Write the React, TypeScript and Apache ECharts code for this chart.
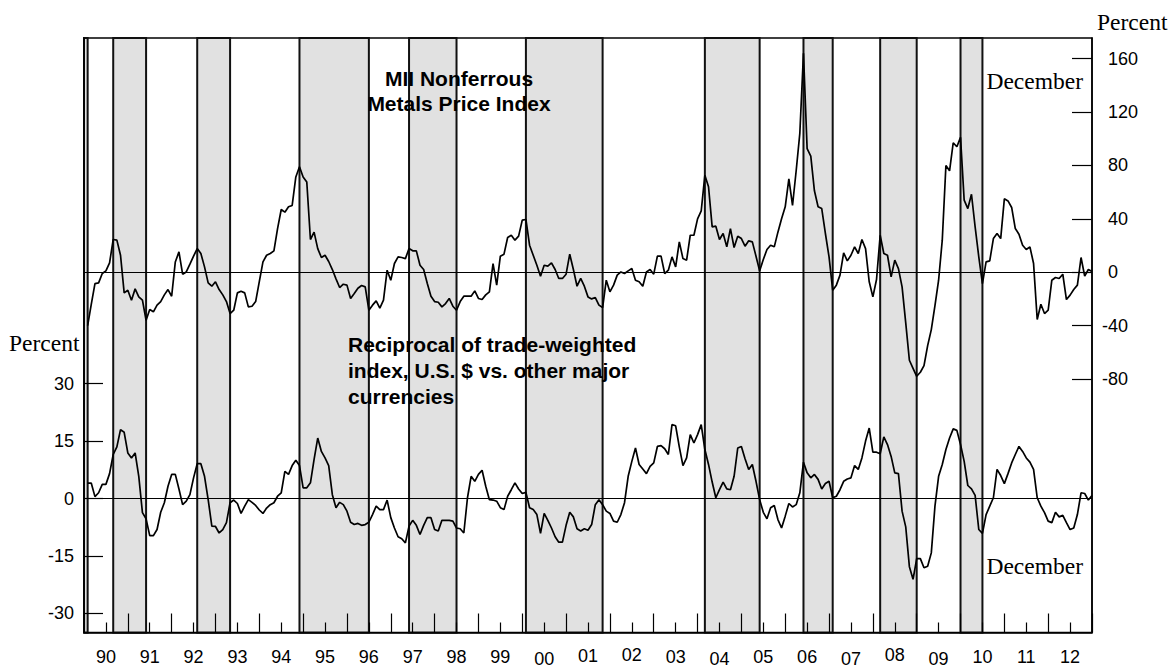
import React, { useEffect, useRef } from 'react';
import * as echarts from 'echarts';

// Year tick labels (two-digit years)
const years = ['90', '91', '92', '93', '94', '95', '96', '97', '98', '99', '00', '01', '02', '03', '04', '05', '06', '07', '08', '09', '10', '11', '12'];

// MII Nonferrous Metals Price Index, growth rate (percent), monthly Jan 1990 .. Dec 2012
const metalsIndex = [
  -40, -24, -8.5, -8, -1, 1, 7, 24.5, 24, 12.7, -15.5, -13.5,
  -21, -12.5, -18.5, -21, -36, -28, -29.7, -24.7, -22, -17, -13, -18,
  7.7, 15.2, -1.5, 0.2, 6, 12, 17.7, 14, 4, -8, -10.5, -7.2,
  -13, -17, -22, -31, -28.5, -15.5, -14.2, -15.5, -26, -25.5, -22, -7,
  7.7, 12.7, 14, 16, 32.7, 47, 45, 49, 50, 71.4, 79, 71.4,
  67.6, 24.5, 30, 17.7, 11, 12.7, 8, 2, -5, -11.5, -9, -9.7,
  -19.7, -16, -12, -10, -11, -28.5, -24.7, -21.5, -27, -21, 1.5, -6,
  6.5, 11.5, 11, 10.2, 17.7, 16, 16, 5.2, 2, -8.5, -18, -22,
  -22.5, -26, -23.5, -19.7, -25.5, -28.5, -22, -18, -18, -18, -14, -19.7,
  -20.5, -17, -14.7, 6.5, -9.7, 12, 13.5, 26, 27.7, 24, 27, 39,
  39.5, 20.2, 12.7, 5.2, -3, 5.2, 4.5, 7, 2, -4.7, -4.7, -1.5,
  13.5, 2, -10.5, -4.7, -10.5, -18.5, -20, -19, -24.7, -26.5, -6, -14.7,
  -9.7, -2.2, 0.2, -1, 1, 2.7, -6, -7.2, -10.5, 0.2, 2, -1.5,
  12, 12, -1, 1.5, 11.5, 4, 22.7, 10.2, 9, 27.7, 27.7, 40,
  46, 72.7, 64, 34, 34.5, 24.5, 29, 19, 32.7, 18.5, 27, 25.2,
  19.5, 23.5, 22.7, 12, 1, 9.5, 17, 20.2, 19, 30, 40, 49,
  70, 50, 76, 104, 164, 92.6, 87, 61, 49, 47.7, 29, 11.5,
  -13.5, -9.7, -2.2, 14.5, 8.5, 12.7, 19, 14, 24.5, 17.7, -7.2, -18.5,
  -5.5, 27.7, 14, 12.7, -3.5, 9, 2.7, -11, -38, -66, -72, -78,
  -75, -70, -55, -43, -25, -6, 24, 80, 76, 97, 94, 101,
  54, 47.7, 58.4, 34, 11.5, -8.5, 7.7, 8.5, 25.2, 29, 25.2, 55,
  53.4, 48.5, 32.7, 28.5, 20.2, 17, 19, 6.5, -35.4, -24, -31, -28.5,
  -6, -4, -4.7, -1.5, -20.5, -17.2, -13, -9.7, 11, -3, 2, 0.5,
];

// Reciprocal of trade-weighted index, U.S. $ vs. other major currencies, growth rate (percent)
const dollarIndex = [
  4, 4, 0.5, 1.5, 3.7, 3.7, 6.5, 11.5, 13.5, 18, 17.3, 11.9,
  10.6, 11.9, 5.8, -3.7, -5.3, -9.7, -9.7, -8.1, -3.6, -1.1, 3.2, 6.3,
  6.3, 2.5, -1.6, -0.7, 1, 5.4, 9.1, 9.1, 5.8, -0.3, -7.2, -7.3,
  -9, -8.1, -6.3, -1.1, -0.4, -1.3, -3.9, -2, -0.3, -1, -1.8, -3,
  -3.9, -2.5, -1.6, -1.1, 0.6, 1.5, 7.1, 6.3, 8.6, 10, 8.6, 2.8,
  2.8, 4.1, 10.2, 15.8, 12.3, 10.6, 8.6, 1, -2.4, -1, -1.6, -3.3,
  -6.2, -6.8, -6.5, -7, -6.8, -6.2, -4.2, -2, -2.9, -2.9, -0.4, -5,
  -7.7, -10, -10.5, -11.6, -7.2, -5.7, -7, -9.4, -7, -5, -5, -8.1,
  -8.5, -5.7, -5.7, -5.7, -5.9, -7.7, -7.9, -9, 0.2, 5.8, 4.5, 6.3,
  7.4, 3.2, -0.3, -0.4, -0.7, -2.4, -2.9, 0.6, 2.3, 4.1, 2.5, 1.3,
  1.6, -2.4, -2.9, -4.2, -9.1, -3.9, -5.7, -7.7, -10, -11.4, -11.4, -7,
  -3.6, -4.8, -7.9, -8.5, -7.9, -8.3, -6.8, -1.6, -0.3, -1.6, -3.3, -3.9,
  -5.9, -6.2, -4.2, -1.1, 5.8, 9.7, 13.2, 8.9, 7.7, 6.5, 8.4, 9.3,
  13.6, 13.8, 13, 11.5, 19.3, 19, 13.5, 8.6, 10.6, 16.7, 14.5, 16.7,
  19.3, 12.8, 8.9, 4.3, 0.2, 2.3, 4.3, 2.5, 2.3, 5.8, 13.2, 13.6,
  10.4, 7.6, 8.9, 4.5, -0.3, -3.6, -5.3, -2.4, -1.8, -5.5, -7.7, -4.6,
  -1.3, -2.2, -1.6, 1.5, 9.5, 6.7, 5.4, 6.3, 5, 2.5, 3.9, 4.5,
  0.2, 0.6, 2.3, 4.5, 5.1, 5.4, 8.6, 7.6, 10.6, 15, 18.4, 12.1,
  12.1, 11.7, 16.1, 14.1, 11, 6.7, 6.5, -3.3, -7.4, -17.8, -21.1, -15.7,
  -15.7, -18.1, -17.7, -14.2, -2, 5.8, 8.9, 12.8, 15.8, 18.2, 17.8, 14.1,
  9.7, 3.4, 2.5, 0.8, -8.1, -9.1, -4.2, -2, 0.2, 7.6, 6, 3.9,
  6.5, 9.3, 11.5, 13.6, 12.3, 10.6, 9.5, 7.6, 0.2, -2, -3.7, -5.9,
  -6.3, -3.6, -4.8, -4.4, -6.3, -8.1, -7.7, -4.2, 1.5, 1.3, -0.4, 0.8,
];

// Shaded periods (months counted from January 1990 = 1)
const downturns = [
  [0, 1], [8, 17], [31, 40], [59, 78], [89, 102], [121, 142],
  [170, 185], [197, 205], [218, 228], [240, 246],
];

const leftTicks = [-30, -15, 0, 15, 30];
const rightTicks = [-80, -40, 0, 40, 80, 120, 160];

// small vertical offsets of some year labels in the original
const labelShift: Record<string, number> = { '00': 2, '01': -1, '02': -2, '04': 2.5, '07': 2.5, '08': -1.5, '09': 2.5 };

const SANS = "'Liberation Sans', Arial, sans-serif";
const SERIF = "'Liberation Serif', 'Times New Roman', serif";

function buildOption() {
  const rich: Record<string, any> = {};
  for (let i = 0; i <= 12; i++) {
    rich['p' + i] = { padding: [i / 2, 0, 0, 0], fontSize: 18, fontFamily: SANS, color: '#000' };
  }
  const tickLine = { color: '#000', width: 1.2 };
  const textStyle = (text: string, font: string, align: string) => ({
    text, font, fill: '#000', textAlign: align, textVerticalAlign: 'middle', align, verticalAlign: 'middle',
  });
  return {
    animation: false,
    backgroundColor: '#fff',
    grid: { left: 84, right: 80, top: 38, bottom: 35, show: true, borderColor: '#000', borderWidth: 1.5, backgroundColor: 'transparent' },
    xAxis: [
      {
        type: 'category', data: years, boundaryGap: true, position: 'bottom', z: 5,
        axisLine: { show: true, onZero: false, lineStyle: { color: '#000', width: 1.5 } },
        axisTick: { show: true, inside: true, length: 19, interval: 0, lineStyle: tickLine },
        axisLabel: {
          interval: 0, margin: 13, color: '#000', fontSize: 18, fontFamily: SANS,
          formatter: (v: string) => `{p${Math.round((2 + (labelShift[v] || 0)) * 2)}|${v}}`,
          rich,
        },
        splitLine: { show: false },
      },
      {
        type: 'category', data: years, boundaryGap: true, position: 'bottom', z: 5,
        axisLine: { show: false, onZero: false },
        axisTick: { show: true, inside: true, length: 10, interval: 0, alignWithLabel: true, lineStyle: tickLine },
        axisLabel: { show: false },
        splitLine: { show: false },
      },
      { type: 'value', min: 0, max: 276, show: false, axisLine: { onZero: false }, splitLine: { show: false } },
    ],
    yAxis: [
      {
        type: 'value', position: 'left', min: -35, max: 120.3, z: 5,
        axisLine: { show: true, onZero: false, lineStyle: { color: '#000', width: 1.5 } },
        axisTick: { show: true, inside: true, length: 19, customValues: leftTicks, lineStyle: tickLine },
        axisLabel: { customValues: leftTicks, margin: 10, color: '#000', fontSize: 18, fontFamily: SANS },
        splitLine: { show: false },
      },
      {
        type: 'value', position: 'right', min: -270, max: 175.5, z: 5,
        axisLine: { show: true, onZero: false, lineStyle: { color: '#000', width: 1.5 } },
        axisTick: { show: true, inside: true, length: 20, customValues: rightTicks, lineStyle: tickLine },
        axisLabel: {
          customValues: rightTicks, margin: 10, align: 'left', color: '#000', fontSize: 18, fontFamily: SANS,
          formatter: (v: number) => (v < 0 ? `{n|${v}}` : `{p|${v}}`),
          rich: {
            n: { fontSize: 18, fontFamily: SANS, color: '#000' },
            p: { fontSize: 18, fontFamily: SANS, color: '#000', padding: [0, 0, 0, 6] },
          },
        },
        splitLine: { show: false },
      },
    ],
    series: [
      {
        name: 'MII Nonferrous Metals Price Index',
        type: 'line', xAxisIndex: 2, yAxisIndex: 1, showSymbol: false, z: 3,
        lineStyle: { color: '#000', width: 1.7 },
        data: metalsIndex.map((v, i) => [i + 1, v]),
        markArea: {
          silent: true,
          itemStyle: { color: '#e1e1e1', borderColor: '#111', borderWidth: 2 },
          data: downturns.map(([a, b]) => [{ xAxis: a }, { xAxis: b }]),
        },
        markLine: {
          silent: true, symbol: ['none', 'none'], label: { show: false },
          lineStyle: { color: '#000', width: 1, type: 'solid' },
          data: [{ yAxis: 0 }],
        },
      },
      {
        name: 'Reciprocal of trade-weighted index',
        type: 'line', xAxisIndex: 2, yAxisIndex: 0, showSymbol: false, z: 3,
        lineStyle: { color: '#000', width: 1.7 },
        data: dollarIndex.map((v, i) => [i + 1, v]),
        markLine: {
          silent: true, symbol: ['none', 'none'], label: { show: false },
          lineStyle: { color: '#000', width: 1, type: 'solid' },
          data: [{ yAxis: 0 }],
        },
      },
    ],
    graphic: {
      elements: [
        { type: 'text', x: 1097, y: 22, z: 10, style: textStyle('Percent', `23.5px ${SERIF}`, 'left') },
        { type: 'text', x: 9, y: 343, z: 10, style: textStyle('Percent', `23.5px ${SERIF}`, 'left') },
        { type: 'text', x: 1083, y: 81, z: 10, style: textStyle('December', `23.5px ${SERIF}`, 'right') },
        { type: 'text', x: 1083, y: 566, z: 10, style: textStyle('December', `23.5px ${SERIF}`, 'right') },
        { type: 'text', x: 459, y: 78, z: 10, style: textStyle('MII Nonferrous', `bold 21px ${SANS}`, 'center') },
        { type: 'text', x: 459, y: 103, z: 10, style: textStyle('Metals Price Index', `bold 21px ${SANS}`, 'center') },
        { type: 'text', x: 348, y: 344, z: 10, style: textStyle('Reciprocal of trade-weighted', `bold 21px ${SANS}`, 'left') },
        { type: 'text', x: 348, y: 370.5, z: 10, style: textStyle('index, U.S. $ vs. other major', `bold 21px ${SANS}`, 'left') },
        { type: 'text', x: 348, y: 396.5, z: 10, style: textStyle('currencies', `bold 21px ${SANS}`, 'left') },
      ],
    },
  };
}

export default function App() {
  const ref = useRef<HTMLDivElement>(null);
  useEffect(() => {
    if (!ref.current) return;
    const chart = echarts.init(ref.current, null, { renderer: 'svg' });
    chart.setOption(buildOption() as any);
    return () => chart.dispose();
  }, []);
  return <div ref={ref} style={{ position: 'absolute', left: 0, top: 0, width: 1172, height: 668, background: '#fff' }} />;
}
